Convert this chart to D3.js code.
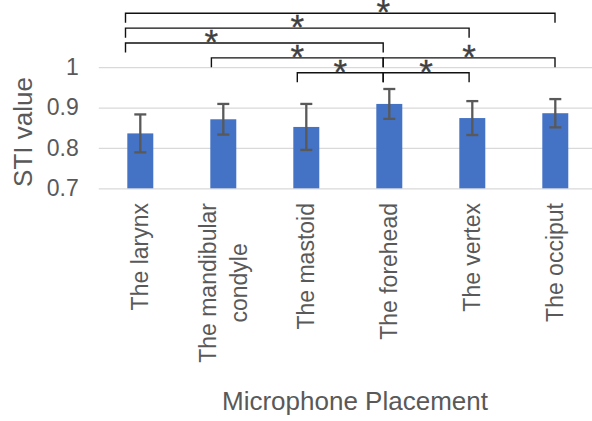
<!DOCTYPE html>
<html>
<head>
<meta charset="utf-8">
<script src="https://cdn.jsdelivr.net/npm/d3@7"></script>
<style>
  body { margin: 0; background: #fff; }
  svg { font-family: "Liberation Sans", Arial, sans-serif; }
  .grid line { stroke: #d9d9d9; stroke-width: 1.3; }
  .grid path { display: none; }
  .tick-labels path, .tick-labels line { display: none; }
  .tick-labels text { fill: #595959; font-size: 23px; }
  .bar { fill: #4472c4; }
  .err { stroke: #595959; stroke-width: 2.3; fill: none; }
  .bracket { stroke: #111; stroke-width: 1.4; fill: none; }
  .star { fill: #404040; stroke: #404040; stroke-width: 0.3; font-size: 35px; }
  .xlab { fill: #595959; font-size: 23px; }
  .title { fill: #595959; font-size: 26px; }
</style>
</head>
<body>
<script>
const categories = ["The larynx", "The mandibular condyle", "The mastoid", "The forehead", "The vertex", "The occiput"];
const labelLines = [["The larynx"], ["The mandibular", "condyle"], ["The mastoid"], ["The forehead"], ["The vertex"], ["The occiput"]];
const means = [0.836, 0.871, 0.852, 0.909, 0.874, 0.886];
const errors = [0.047, 0.038, 0.057, 0.037, 0.042, 0.035];
const yTicks = [0.7, 0.8, 0.9, 1];

// significance brackets: from, to, level (0 = lowest), where the star sits
const sigFrom = ["The larynx", "The larynx", "The larynx", "The mandibular condyle", "The forehead", "The mastoid", "The forehead"];
const sigTo = ["The occiput", "The vertex", "The forehead", "The forehead", "The occiput", "The forehead", "The vertex"];
const sigLevel = [4, 3, 2, 1, 1, 0, 0];
const sigStarAt = ["The forehead", null, "The mandibular condyle", null, null, null, null];

const W = 592, H = 421;
const plotLeft = 98.8, plotRight = 596.8;
const plotBottom = 188.3, plotTop = 67.2;

const svg = d3.select("body").append("svg")
    .attr("width", W)
    .attr("height", H);

const x = d3.scaleBand().domain(categories)
    .range([plotLeft, plotRight])
    .paddingInner(0.687)
    .paddingOuter(0.687 / 2);

const y = d3.scaleLinear().domain([0.7, 1]).range([plotBottom, plotTop]);

// gridlines
svg.append("g")
    .attr("class", "grid")
    .attr("transform", "translate(" + plotLeft + ",0)")
    .call(d3.axisLeft(y).tickValues(yTicks).tickSize(-(W - plotLeft)).tickFormat(""));

svg.append("g")
    .attr("class", "tick-labels")
    .attr("transform", "translate(" + (plotLeft - 14) + ",0)")
    .call(d3.axisLeft(y).tickValues(yTicks).tickSize(0).tickPadding(6).tickFormat(d3.format("")));

const data = categories.map((c, i) => ({ cat: c, mean: means[i], err: errors[i], lines: labelLines[i] }));

svg.selectAll(".bar").data(data).join("rect")
    .attr("class", "bar")
    .attr("x", d => x(d.cat))
    .attr("width", x.bandwidth())
    .attr("y", d => y(d.mean))
    .attr("height", d => y(0.7) - y(d.mean));

const cx = d => x(d.cat) + x.bandwidth() / 2;
const eb = svg.append("g").selectAll("g").data(data).join("g").attr("class", "err");
eb.append("line")
    .attr("x1", cx).attr("x2", cx)
    .attr("y1", d => y(d.mean - d.err)).attr("y2", d => y(d.mean + d.err));
eb.append("line")
    .attr("x1", d => cx(d) - 6).attr("x2", d => cx(d) + 6)
    .attr("y1", d => y(d.mean + d.err)).attr("y2", d => y(d.mean + d.err));
eb.append("line")
    .attr("x1", d => cx(d) - 6).attr("x2", d => cx(d) + 6)
    .attr("y1", d => y(d.mean - d.err)).attr("y2", d => y(d.mean - d.err));

// x labels, rotated
const labTop = 203, lineGap = 31;
data.forEach(d => {
    const g = svg.append("g");
    if (d.lines.length === 1) {
        g.append("text").attr("class", "xlab")
            .attr("transform", "translate(" + cx(d) + "," + labTop + ") rotate(-90)")
            .attr("text-anchor", "end")
            .attr("dy", "0.35em")
            .text(d.lines[0]);
    } else {
        const texts = d.lines.map((t, j) => g.append("text").attr("class", "xlab")
            .attr("text-anchor", "middle").attr("dy", "0.35em").text(t));
        const maxLen = d3.max(texts, t => t.node().getComputedTextLength());
        const n = d.lines.length;
        texts.forEach((t, j) => {
            const px = cx(d) + (j - (n - 1) / 2) * lineGap;
            t.attr("transform", "translate(" + px + "," + (labTop + maxLen / 2) + ") rotate(-90)");
        });
    }
});

// significance brackets
const bx = d3.scalePoint().domain(categories).range([125.5, 555]);
const levelY = l => 72.7 - l * 14.85;
const tickLen = 9.5;
const sig = sigFrom.map((f, i) => ({ from: f, to: sigTo[i], level: sigLevel[i], star: sigStarAt[i] }));

svg.append("g").selectAll("path").data(sig).join("path")
    .attr("class", "bracket")
    .attr("d", d => {
        const yy = levelY(d.level);
        return "M" + bx(d.from) + "," + (yy + tickLen) + "V" + yy + "H" + bx(d.to) + "V" + (yy + tickLen);
    });

svg.append("g").selectAll("text").data(sig).join("text")
    .attr("class", "star")
    .attr("text-anchor", "middle")
    .attr("x", d => d.star ? bx(d.star) : (bx(d.from) + bx(d.to)) / 2)
    .attr("y", d => levelY(d.level) + 11)
    .text("*");

// axis titles
svg.append("text").attr("class", "title")
    .attr("transform", "translate(22.5,132) rotate(-90)")
    .attr("text-anchor", "middle")
    .attr("dy", "0.35em")
    .text("STI value");

svg.append("text").attr("class", "title")
    .attr("x", 355).attr("y", 410)
    .attr("text-anchor", "middle")
    .text("Microphone Placement");
</script>
</body>
</html>
